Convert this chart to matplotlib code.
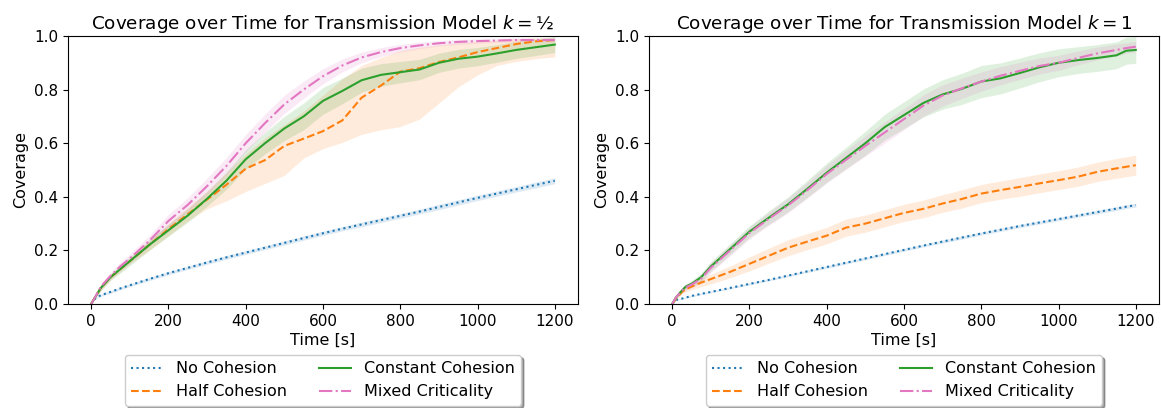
import matplotlib
matplotlib.use("Agg")
import matplotlib.pyplot as plt

# ---------------- data (left panel, k = 1/2) ----------------
t_left = [0, 10, 25, 50, 75, 100, 150, 200, 250, 300, 350, 400, 450, 500, 550, 600, 650,
          700, 750, 800, 850, 900, 950, 1000, 1050, 1100, 1150, 1200]
no_left = [0.0, 0.02, 0.033, 0.045, 0.058, 0.07, 0.093, 0.115, 0.135, 0.155, 0.174, 0.192,
           0.21, 0.228, 0.246, 0.264, 0.281, 0.297, 0.313, 0.329, 0.345, 0.362, 0.379,
           0.396, 0.412, 0.428, 0.444, 0.46]
no_left_err = [0.0, 0.003, 0.004, 0.005, 0.005, 0.005, 0.006, 0.006, 0.006, 0.007, 0.007,
               0.007, 0.007, 0.008, 0.008, 0.008, 0.008, 0.009, 0.009, 0.009, 0.009, 0.01,
               0.01, 0.01, 0.01, 0.01, 0.011, 0.011]
half_left = [0.0, 0.025, 0.06, 0.1, 0.13, 0.16, 0.22, 0.28, 0.335, 0.39, 0.445, 0.505,
             0.537, 0.59, 0.617, 0.645, 0.685, 0.77, 0.815, 0.867, 0.88, 0.903, 0.92, 0.94,
             0.955, 0.97, 0.98, 0.985]
half_left_lo = [0.0, 0.02, 0.05, 0.09, 0.12, 0.15, 0.2, 0.255, 0.31, 0.355, 0.385, 0.42,
                0.45, 0.48, 0.545, 0.58, 0.603, 0.633, 0.65, 0.662, 0.69, 0.75, 0.81, 0.855,
                0.89, 0.905, 0.915, 0.922]
half_left_hi = [0.0, 0.03, 0.07, 0.11, 0.14, 0.17, 0.235, 0.3, 0.36, 0.42, 0.49, 0.56,
                0.62, 0.67, 0.72, 0.78, 0.84, 0.89, 0.92, 0.945, 0.958, 0.967, 0.975, 0.98,
                0.985, 0.99, 0.993, 0.995]
const_left = [0.0, 0.025, 0.06, 0.1, 0.13, 0.16, 0.22, 0.275, 0.33, 0.393, 0.46, 0.54,
              0.6, 0.655, 0.7, 0.758, 0.795, 0.835, 0.855, 0.865, 0.875, 0.9, 0.915, 0.923,
              0.935, 0.948, 0.958, 0.968]
const_left_err = [0.0, 0.005, 0.01, 0.012, 0.015, 0.017, 0.02, 0.022, 0.025, 0.028, 0.032,
                  0.036, 0.04, 0.045, 0.05, 0.05, 0.048, 0.045, 0.042, 0.04, 0.038, 0.036,
                  0.035, 0.034, 0.033, 0.032, 0.031, 0.03]
mixed_left = [0.0, 0.025, 0.065, 0.105, 0.14, 0.17, 0.235, 0.31, 0.37, 0.44, 0.515, 0.6,
              0.675, 0.745, 0.8, 0.85, 0.89, 0.92, 0.94, 0.955, 0.965, 0.973, 0.978, 0.981,
              0.983, 0.985, 0.985, 0.985]
mixed_left_err = [0.0, 0.005, 0.01, 0.012, 0.015, 0.017, 0.02, 0.024, 0.027, 0.03, 0.032,
                  0.033, 0.034, 0.034, 0.032, 0.028, 0.024, 0.02, 0.017, 0.014, 0.012, 0.01,
                  0.009, 0.008, 0.007, 0.007, 0.006, 0.006]

# ---------------- data (right panel, k = 1) ----------------
t_right = [0, 10, 25, 35, 50, 75, 100, 150, 200, 250, 300, 350, 400, 450, 500, 550, 600,
           650, 700, 750, 800, 850, 900, 950, 1000, 1050, 1100, 1150, 1175, 1200]
no_right = [0.0, 0.015, 0.02, 0.024, 0.03, 0.038, 0.045, 0.06, 0.075, 0.09, 0.106, 0.122,
            0.138, 0.154, 0.17, 0.186, 0.202, 0.218, 0.233, 0.248, 0.263, 0.277, 0.291,
            0.304, 0.317, 0.33, 0.343, 0.356, 0.363, 0.369]
no_right_err = [0.0, 0.002, 0.002, 0.002, 0.003, 0.003, 0.003, 0.003, 0.004, 0.004, 0.004,
                0.004, 0.005, 0.005, 0.005, 0.005, 0.005, 0.005, 0.006, 0.006, 0.006, 0.006,
                0.006, 0.006, 0.006, 0.006, 0.007, 0.007, 0.007, 0.007]
half_right = [0.0, 0.02, 0.045, 0.055, 0.065, 0.08, 0.093, 0.12, 0.15, 0.18, 0.21, 0.233,
              0.255, 0.285, 0.3, 0.32, 0.34, 0.355, 0.375, 0.392, 0.412, 0.425, 0.437, 0.45,
              0.462, 0.475, 0.493, 0.506, 0.512, 0.518]
half_right_err = [0.0, 0.005, 0.008, 0.01, 0.012, 0.015, 0.018, 0.022, 0.026, 0.028, 0.03,
                  0.03, 0.031, 0.032, 0.032, 0.032, 0.032, 0.033, 0.033, 0.034, 0.034, 0.034,
                  0.035, 0.035, 0.035, 0.036, 0.036, 0.037, 0.037, 0.037]
const_right = [0.0, 0.025, 0.05, 0.065, 0.075, 0.1, 0.14, 0.205, 0.27, 0.322, 0.372, 0.43,
               0.49, 0.545, 0.6, 0.66, 0.705, 0.75, 0.782, 0.803, 0.83, 0.842, 0.862, 0.883,
               0.9, 0.91, 0.918, 0.928, 0.945, 0.948]
const_right_err = [0.0, 0.005, 0.008, 0.01, 0.012, 0.015, 0.018, 0.02, 0.022, 0.025, 0.028,
                   0.032, 0.036, 0.04, 0.045, 0.048, 0.05, 0.052, 0.055, 0.058, 0.06, 0.058,
                   0.056, 0.054, 0.052, 0.05, 0.05, 0.05, 0.05, 0.05]
mixed_right = [0.0, 0.025, 0.05, 0.062, 0.072, 0.095, 0.135, 0.2, 0.265, 0.318, 0.368,
               0.425, 0.485, 0.538, 0.59, 0.64, 0.69, 0.74, 0.778, 0.805, 0.83, 0.852, 0.87,
               0.888, 0.9, 0.918, 0.935, 0.948, 0.955, 0.96]
mixed_right_err = [0.0, 0.005, 0.008, 0.01, 0.012, 0.015, 0.018, 0.02, 0.022, 0.025, 0.028,
                   0.03, 0.033, 0.036, 0.038, 0.04, 0.04, 0.04, 0.04, 0.038, 0.036, 0.034,
                   0.032, 0.03, 0.028, 0.026, 0.024, 0.022, 0.02, 0.02]

labels = ["No Cohesion", "Half Cohesion", "Constant Cohesion", "Mixed Criticality"]
colors = ["#1f77b4", "#ff7f0e", "#2ca02c", "#e377c2"]
styles = [":", "--", "-", "-."]
titles = ["Coverage over Time for Transmission Model $k = $½",
          "Coverage over Time for Transmission Model $k = 1$"]
xticks = [0, 200, 400, 600, 800, 1000, 1200]
yticks = [0.0, 0.2, 0.4, 0.6, 0.8, 1.0]


def band(mean, err):
    lo = [m - e for m, e in zip(mean, err)]
    hi = [m + e for m, e in zip(mean, err)]
    return lo, hi


fig = plt.figure(figsize=(11.61, 4.08), dpi=100)
ax1 = fig.add_axes([68 / 1161, 1 - 304 / 408, 510 / 1161, 268 / 408])
ax2 = fig.add_axes([649 / 1161, 1 - 304 / 408, 510 / 1161, 268 / 408])

panels = [
    (ax1, t_left, [
        (no_left, band(no_left, no_left_err)),
        (half_left, (half_left_lo, half_left_hi)),
        (const_left, band(const_left, const_left_err)),
        (mixed_left, band(mixed_left, mixed_left_err)),
    ]),
    (ax2, t_right, [
        (no_right, band(no_right, no_right_err)),
        (half_right, band(half_right, half_right_err)),
        (const_right, band(const_right, const_right_err)),
        (mixed_right, band(mixed_right, mixed_right_err)),
    ]),
]

for i, (ax, t, series) in enumerate(panels):
    for j, (mean, (lo, hi)) in enumerate(series):
        ax.fill_between(t, lo, hi, color=colors[j], alpha=0.15, linewidth=0)
        ax.plot(t, mean, linestyle=styles[j], color=colors[j], linewidth=1.5,
                label=labels[j])
    ax.set_ylim(0, 1)
    ax.set_xlim(-60, 1260)
    ax.set_xticks(xticks)
    ax.set_yticks(yticks)
    ax.set_xlabel("Time [s]", fontsize=11.5, labelpad=3)
    ax.set_ylabel("Coverage", fontsize=11.5)
    ax.tick_params(labelsize=11)
    ax.set_title(titles[i], fontsize=13.2, pad=5)
    ax.legend(loc="upper center", bbox_to_anchor=(0.5, -0.19), ncol=2, fontsize=11.5,
              shadow=True, fancybox=True, framealpha=1, handlelength=2.0,
              columnspacing=2.0, borderaxespad=0)

fig.savefig("out.png", dpi=100)
